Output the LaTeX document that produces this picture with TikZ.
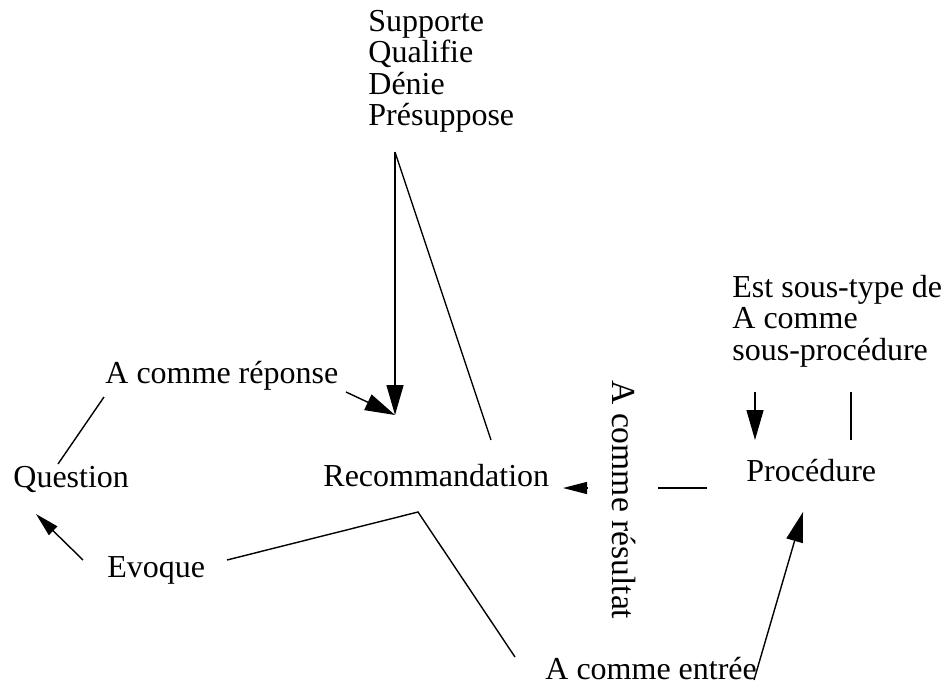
\documentclass[tikz,border=0pt]{standalone}
\usepackage{fontspec}
\setmainfont{Liberation Serif}
\usetikzlibrary{positioning, arrows.meta}
\tikzset{lbl/.style={inner sep=0pt,anchor=base west,font=\fontsize{16}{15.75}\selectfont},
  link/.style={line width=0.7pt},
  bigarrow/.style={link,-{Triangle[length=15pt,width=8.5pt]}},
  smallarrow/.style={link,-{Triangle[length=12pt,width=6pt]}}}

\begin{document}
\begin{tikzpicture}[x=0.5pt,y=-0.5pt]
  \useasboundingbox (0,0) rectangle (945,684);
  % labels (multi-line ones sit on the baseline of their last line)
  \node[lbl,align=left] (relations) at (368,126) {Supporte\\Qualifie\\Dénie\\Présuppose};
  \node[lbl] (question) at (13,487) {Question};
  \node[lbl] (reponse) at (105,383) {A comme réponse};
  \node[lbl] (recom) at (323,486) {Recommandation};
  \node[lbl] (evoque) at (107,577) {Evoque};
  \node[lbl] (entree) at (545,679) {A comme entrée};
  \node[lbl] (proc) at (746,481) {Procédure};
  \node[lbl,align=left] (soustype) at (732,360) {Est sous-type de\\A comme\\sous-procédure};
  \node[lbl,rotate=-90,font=\fontsize{16.8}{18}\selectfont] (resultat) at (612,380) {A comme résultat};

  % ends of the links
  \coordinate (apex) at (395,152);
  \coordinate (recomtop) at (395,415);
  \coordinate (recomright) at (491,440);
  \coordinate (reponseend) at (346,392);
  \coordinate (questtop) at (58,464);
  \coordinate (reponseleft) at (104,397);
  \coordinate (evoqueleft) at (83,560);
  \coordinate (questbot) at (36,514);
  \coordinate (evoqueright) at (227,560);
  \coordinate (recombot) at (418,512);
  \coordinate (entreeleft) at (515,657);
  \coordinate (entreeright) at (754,680);
  \coordinate (procbot) at (803,512);
  \coordinate (resultleft) at (587,488);
  \coordinate (recomend) at (563,488);
  \coordinate (resultright) at (658,488);
  \coordinate (procleft) at (707,488);
  \coordinate (soustypeleft) at (755,392);
  \coordinate (proctopleft) at (755,440);
  \coordinate (soustyperight) at (851,392);
  \coordinate (proctopright) at (851,440);

  \draw[bigarrow] (apex) -- (recomtop);
  \draw[link] (apex) -- (recomright);
  \draw[bigarrow] (reponseend) -- (recomtop);
  \draw[link] (questtop) -- (reponseleft);
  \draw[smallarrow] (evoqueleft) -- (questbot);
  \draw[link] (evoqueright) -- (recombot) -- (entreeleft);
  \draw[bigarrow] (entreeright) -- (procbot);
  \draw[smallarrow] (resultleft) -- (recomend);
  \draw[link] (resultright) -- (procleft);
  \draw[bigarrow] (soustypeleft) -- (proctopleft);
  \draw[link] (soustyperight) -- (proctopright);
\end{tikzpicture}
\end{document}
